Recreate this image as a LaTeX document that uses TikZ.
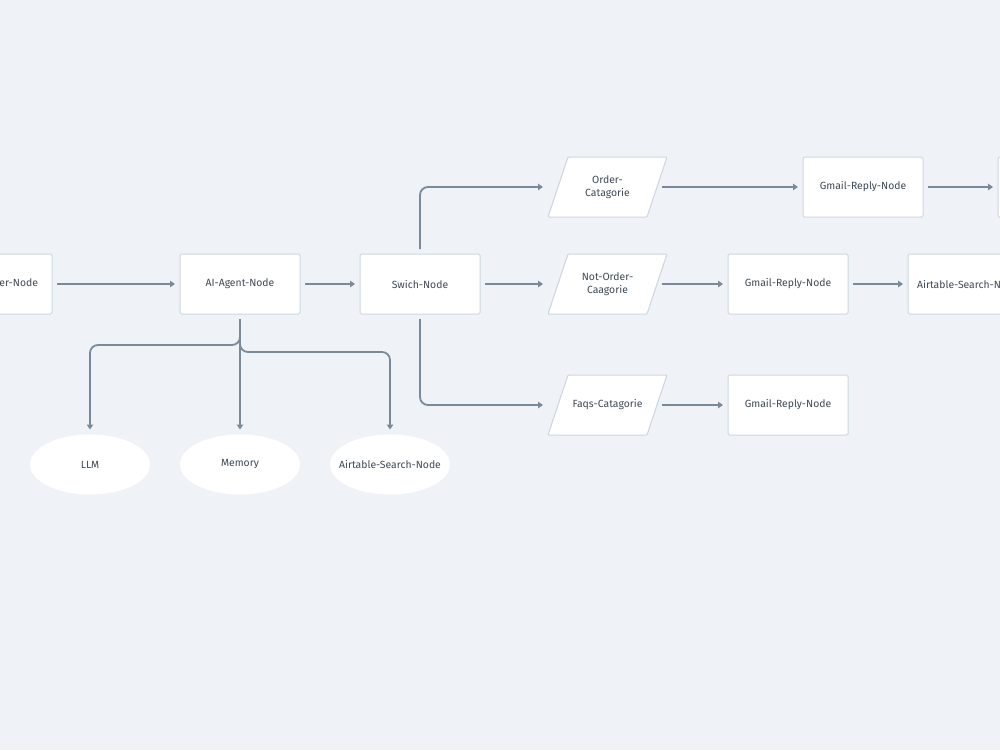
\documentclass[tikz,border=0pt]{standalone}
\usepackage{fontspec}
\setmainfont{Fira Sans}
\usetikzlibrary{arrows.meta,calc,shapes.geometric}
\definecolor{bg}{HTML}{EFF3F7}
\definecolor{ln}{HTML}{7A8A99}
\definecolor{bd}{HTML}{CCD6E0}
\definecolor{tx}{HTML}{3E4A56}
\tikzset{
  lbl/.style={text=tx, font=\fontsize{10.4}{12.5}\selectfont},
  box/.style={lbl, draw=bd, line width=1pt, fill=white, rounded corners=1.5pt, minimum width=120pt, minimum height=60pt, inner sep=0pt, outer sep=0pt, align=center},
  para/.style={lbl, minimum width=99pt, minimum height=60pt, inner sep=0pt, outer sep=0pt, align=center},
  parashape/.style={draw=bd, line width=1pt, fill=white, rounded corners=1pt},
  oval/.style={lbl, ellipse, fill=white, minimum width=120pt, minimum height=60pt, inner xsep=-20pt, inner ysep=0pt, outer sep=0pt},
  arr/.style={draw=ln, line width=1.8pt, -{Triangle[length=5pt,width=6.5pt]}, shorten >=5pt, shorten <=5pt, rounded corners=8pt},
}
\newcommand{\paraat}[1]{%
  \draw[parashape] ($(#1)+(-59.5,30)$) -- ($(#1)+(-39.5,-30)$) -- ($(#1)+(59.5,-30)$) -- ($(#1)+(39.5,30)$) -- cycle;}
\begin{document}
\begin{tikzpicture}[x=1pt, y=-1pt]
\fill[bg] (0,0) rectangle (1000,750);
\useasboundingbox (0,0) rectangle (1000,750);
\clip (0,0) rectangle (1000,750);

\paraat{607.5,187}
\paraat{607.5,284}
\paraat{607.5,405}

\node[box] (trig) at (-8,284) {Gmail-Trigger-Node};
\node[box] (ai) at (240,284) {AI-Agent-Node};
\node[box] (sw) at (420,284) {Swich-Node};
\node[para] (oc) at (607.5,187) {Order-\\Catagorie};
\node[para] (nc) at (607.5,284) {Not-Order-\\Caagorie};
\node[para] (fc) at (607.5,405) {Faqs-Catagorie};
\node[box] (g1) at (863,187) {Gmail-Reply-Node};
\node[box] (nx) at (1058,187) {};
\node[box] (g2) at (788,284) {Gmail-Reply-Node};
\node[box] (as) at (968,284) {Airtable-Search-Node};
\node[box] (g3) at (788,405) {Gmail-Reply-Node};
\node[oval] (llm) at (90,464.5) {LLM};
\node[oval] (mem) at (240,464.5) {Memory};
\node[oval] (ast) at (390,464.5) {Airtable-Search-Node};

\coordinate (j1) at (240,345);
\coordinate (j2) at (240,352);

\draw[arr] (trig) -- (ai);
\draw[arr] (ai) -- (sw);
\draw[arr, shorten >=15pt] (sw) -- (nc);
\draw[arr, shorten >=15pt] (sw.north) |- (oc.west);
\draw[arr, shorten >=15pt] (sw.south) |- (fc.west);
\draw[arr] (oc) -- (g1);
\draw[arr] (g1) -- (nx);
\draw[arr] (nc) -- (g2);
\draw[arr] (g2) -- (as);
\draw[arr] (fc) -- (g3);
\draw[arr] (ai.south) -- (j1) -| (llm.north);
\draw[arr] (ai.south) -- (mem.north);
\draw[arr] (ai.south) -- (j2) -| (ast.north);
\end{tikzpicture}
\end{document}
